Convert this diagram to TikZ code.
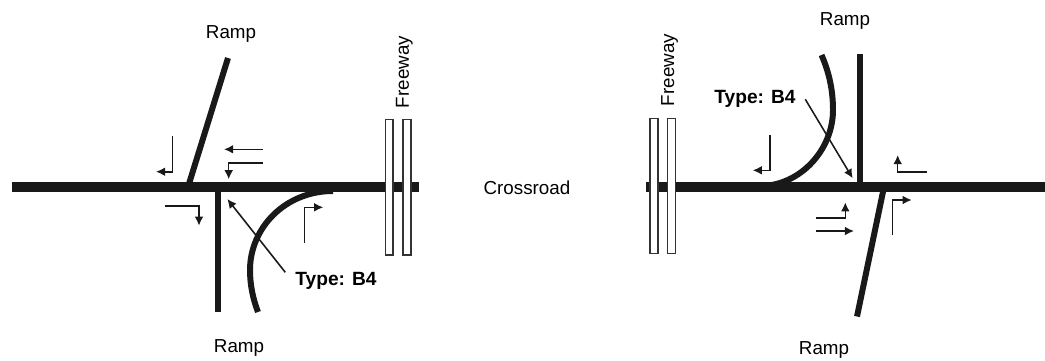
\documentclass[tikz,border=0pt]{standalone}
\usepackage{xcolor}
\usepackage{fontspec}
\setmainfont{Liberation Sans}
\usetikzlibrary{positioning,calc,arrows.meta}
\tikzset{
    road/.style={line width=5.3pt,black!90},
    ramp/.style={line width=3.4pt,black!90},
    turn/.style={line width=0.9pt,black!90,-{Latex[length=5.2pt,width=5pt]}},
    lane/.style={draw=black!80,fill=white,line width=0.6pt},
    lbl/.style={font=\fontsize{10.7pt}{12pt}\selectfont,inner sep=0pt,anchor=base},
    typelbl/.style={lbl,font=\fontsize{10.9pt}{12pt}\selectfont\bfseries}
}

\begin{document}
\begin{tikzpicture}[x=0.02cm,y=-0.02cm]
    \useasboundingbox (0,0) rectangle (1045,360);

    % Left interchange
    \draw[road] (12,187) -- (419,187);
    \draw[ramp] (188,187) -- (228,58);
    \draw[ramp] (218,187) -- (218,312);
    \draw[ramp] (333,191) .. controls (285,191) and (250,228) .. (250,270) .. controls (250,285) and (253,299) .. (258,312);
    \draw[lane] (385.3,119.3) rectangle (393,255);
    \draw[lane] (403,119.3) rectangle (411,255);
    \draw[turn] (172.3,136) -- (172.3,171.7) -- (156,171.7);
    \draw[turn] (262.7,149.3) -- (224,149.3);
    \draw[turn] (262.7,162.7) -- (228.7,162.7) -- (228.7,179.3);
    \draw[turn] (165,205.7) -- (199,205.7) -- (199,225.7);
    \draw[turn] (304.7,242.7) -- (304.7,207.3) -- (323.3,207.3);
    \node[typelbl] (typeL) at (336,285) {Type: B4};
    \coordinate (jctL) at (227.3,199);
    \draw[turn] (285.3,272.3) -- (jctL);
    \node[lbl] (rampLT) at (231,38) {Ramp};
    \node[lbl] (rampLB) at (239,352) {Ramp};
    \node[lbl,rotate=90] (freeL) at (408.8,72) {Freeway};

    \node[lbl] (cross) at (527,194) {Crossroad};

    % Right interchange
    \draw[road] (646,187) -- (1045,187);
    \draw[ramp] (860.3,187) -- (860.3,54);
    \draw[ramp] (884,187) -- (857,316.5);
    \draw[ramp] (760,186) .. controls (800,186) and (833,150) .. (833,110) .. controls (833,90) and (829,72) .. (821.5,55);
    \draw[lane] (650,118.5) rectangle (658,253.5);
    \draw[lane] (667.7,118.5) rectangle (675.7,253.5);
    \draw[turn] (770,135) -- (770,170.3) -- (752.7,170.3);
    \draw[turn] (927.3,171.7) -- (897.7,171.7) -- (897.7,155);
    \draw[turn] (892.7,235.3) -- (892.7,200) -- (911.7,200);
    \draw[turn] (816,217.7) -- (845.3,217.7) -- (845.3,202.3);
    \draw[turn] (816,231) -- (854,231);
    \node[typelbl] (typeR) at (755,103.5) {Type: B4};
    \coordinate (jctR) at (852.7,178.3);
    \draw[turn] (805.3,99.3) -- (jctR);
    \node[lbl] (rampRT) at (845,25) {Ramp};
    \node[lbl] (rampRB) at (824,354) {Ramp};
    \node[lbl,rotate=90] (freeR) at (674,70) {Freeway};
\end{tikzpicture}
\end{document}
